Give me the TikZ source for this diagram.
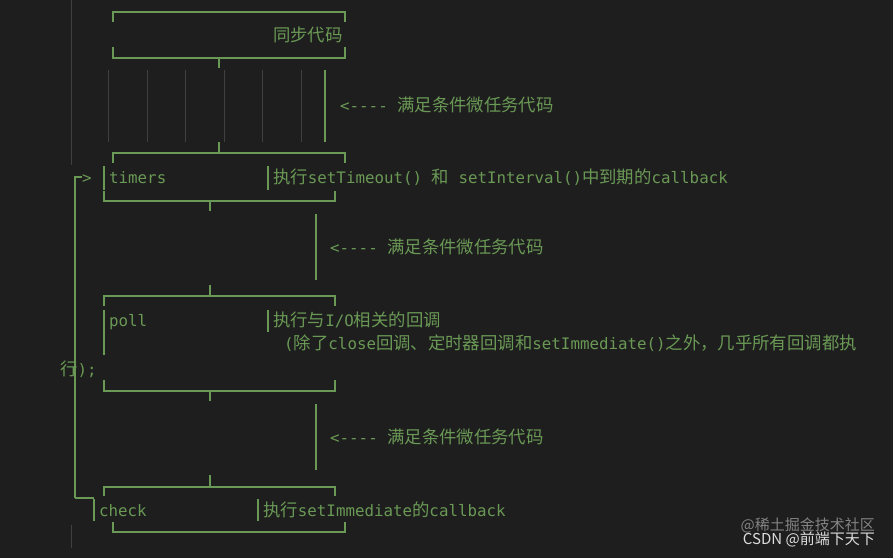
\documentclass[tikz,border=0pt]{standalone}
\usepackage{fontspec}
\setmonofont{DejaVu Sans Mono}
\newfontfamily\cjk[Scale=1.1]{Noto Sans CJK SC}
\newfontfamily\cjkwm{Noto Sans CJK SC}
\definecolor{bg}{HTML}{1E1E1E}
\definecolor{cg}{HTML}{6A9955}
\definecolor{guide}{HTML}{404040}
\newcommand{\C}[1]{{\cjk #1}}
\begin{document}
\begin{tikzpicture}[x=1pt,y=-1pt,
  g/.style={draw=cg,line width=1.2pt},
  gd/.style={draw=guide,line width=0.8pt},
  t/.style={text=cg,font=\ttfamily\fontsize{15.8}{18}\selectfont,anchor=base west,inner sep=0pt},
  wm/.style={anchor=base east,inner sep=0pt,font=\cjkwm\fontsize{15}{18}\selectfont}]
\fill[bg] (0,0) rectangle (893,558);
\useasboundingbox (0,0) rectangle (893,558);
% guide lines
\draw[gd] (71,0) -- (71,165);
\draw[gd] (71,525) -- (71,548);
\foreach \x in {108,147,185,224,262,301} \draw[gd] (\x,70) -- (\x,142);
% sync box
\draw[g] (113,22) -- (113,12) -- (345,12) -- (345,22);
\draw[g] (113,47) -- (113,58) -- (345,58) -- (345,47);
\draw[g] (219,58) -- (219,68);
\node[t] (sync) at (273,41) {\C{同步代码}};
% micro 1
\draw[g] (325,70) -- (325,142);
\node[t] (m1) at (340,111) {<---- \C{满足条件微任务代码}};
% timers box
\draw[g] (219,142) -- (219,153);
\draw[g] (113,163) -- (113,153) -- (345,153) -- (345,163);
\draw[g] (104,166) -- (104,190);
\draw[g] (268,166) -- (268,190);
\node[t] (timers) at (109,183) {timers};
\node[t] (tdesc) at (273,183) {\C{执行}setTimeout() \C{和} setInterval()\C{中到期的}callback};
\draw[g] (104,191) -- (104,201) -- (335,201) -- (335,191);
\draw[g] (210,201) -- (210,211);
% loop arrow
\draw[g] (75,498) -- (75,177) -- (82,177);
\node[t] (arr) at (82,183) {>};
% micro 2
\draw[g] (316,214) -- (316,280);
\node[t] (m2) at (330,253) {<---- \C{满足条件微任务代码}};
% poll box
\draw[g] (210,285) -- (210,296);
\draw[g] (104,306) -- (104,296) -- (335,296) -- (335,306);
\draw[g] (104,310) -- (104,355);
\draw[g] (268,310) -- (268,332);
\node[t] (poll) at (109,326) {poll};
\node[t] (pdesc) at (273,326) {\C{执行与}I/O\C{相关的回调}};
\node[t] (pdesc2) at (284,349) {(\C{除了}close\C{回调、定时器回调和}setImmediate()\C{之外，几乎所有回调都执}};
\node[t] (pdesc3) at (60,375) {\C{行});};
\draw[g] (104,380) -- (104,391) -- (335,391) -- (335,380);
\draw[g] (210,391) -- (210,401);
% micro 3
\draw[g] (316,404) -- (316,470);
\node[t] (m3) at (330,443) {<---- \C{满足条件微任务代码}};
% check box
\draw[g] (210,475) -- (210,487);
\draw[g] (104,496) -- (104,487) -- (335,487) -- (335,496);
\draw[g] (75,498) -- (94,498);
\draw[g] (94,499) -- (94,521);
\draw[g] (258,499) -- (258,521);
\node[t] (check) at (99,516) {check};
\node[t] (cdesc) at (263,516) {\C{执行}setImmediate\C{的}callback};
\draw[g] (113,522) -- (113,532) -- (345,532) -- (345,522);
% watermark
\node[wm,text=white!45!bg] (wm1) at (875,530) {@稀土掘金技术社区};
\node[wm,text=white!85!bg] (wm2) at (875,544) {CSDN @前端下天下};
\end{tikzpicture}
\end{document}
